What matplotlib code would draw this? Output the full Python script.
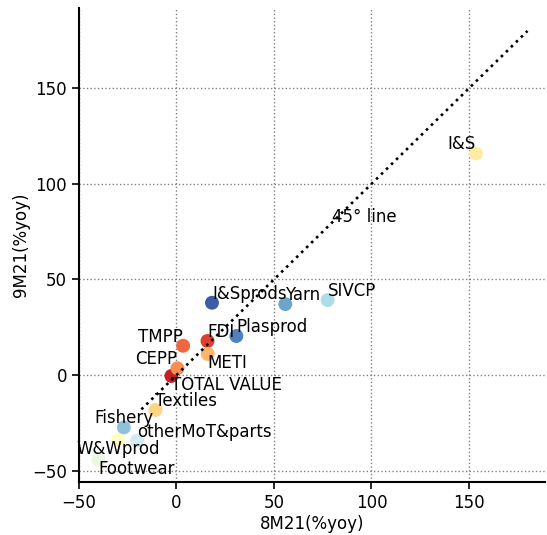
import numpy as np
import matplotlib
matplotlib.use("Agg")
import matplotlib.pyplot as plt

categories = ["TOTAL VALUE", "FDI", "TMPP", "CEPP", "METI", "Textiles", "I&S",
              "W&Wprod", "Footwear", "otherMoT&parts", "SIVCP", "Fishery",
              "Yarn", "Plasprod", "I&Sprods"]
x_8m21 = [-2.6, 15.9, 3.4, 0.5, 16.0, -10.8, 153.6,
          -29.9, -40.1, -20.2, 77.5, -27.0,
          55.8, 30.7, 18.2]
y_9m21 = [-0.5, 17.8, 15.3, 3.5, 11.0, -18.3, 115.9,
          -33.9, -44.4, -34.3, 39.2, -27.4,
          37.1, 20.4, 37.8]
line_x = [-18, 180]

# label alignment (style)
label_ha = ["left", "left", "right", "right", "left", "left", "right",
            "center", "left", "left", "left", "center",
            "left", "left", "left"]
label_va = ["top", "bottom", "bottom", "bottom", "top", "bottom", "bottom",
            "top", "top", "bottom", "bottom", "bottom",
            "bottom", "bottom", "bottom"]

plt.rcParams['font.family'] = ['DejaVu Sans']
fig = plt.figure(figsize=(5.47, 5.35), dpi=100)
ax = fig.add_axes([0.1444, 0.099, 0.852, 0.886])

cmap = plt.get_cmap('RdYlBu')
n = len(categories)
colors = cmap(np.linspace(0, 1, n + 2)[1:-1])

ax.grid(True, linestyle=':', color='gray', linewidth=1, zorder=0)
ax.set_axisbelow(True)

for i in range(n):
    ax.scatter(x_8m21[i], y_9m21[i], s=100, color=colors[i], edgecolor='none', zorder=3)

ax.plot(line_x, line_x, linestyle=':', color='black', linewidth=1.9, zorder=4)
ax.text(80, 80, '45° line', fontsize=12, ha='left', va='baseline', zorder=5)

for i in range(n):
    ax.annotate(categories[i], (x_8m21[i], y_9m21[i]), ha=label_ha[i], va=label_va[i],
                fontsize=12, zorder=6)

ax.set_xlim(-50, 189)
ax.set_ylim(-56, 192)
ax.set_xticks([-50, 0, 50, 100, 150])
ax.set_yticks([-50, 0, 50, 100, 150])
ax.tick_params(labelsize=12, length=5, width=1.2)
ax.spines['top'].set_visible(False)
ax.spines['right'].set_visible(False)
ax.spines['left'].set_linewidth(1.5)
ax.spines['bottom'].set_linewidth(1.5)
ax.set_xlabel('8M21(%yoy)', fontsize=12, labelpad=2)
ax.set_ylabel('9M21(%yoy)', fontsize=12, labelpad=2)

fig.savefig('out.png', dpi=100)
